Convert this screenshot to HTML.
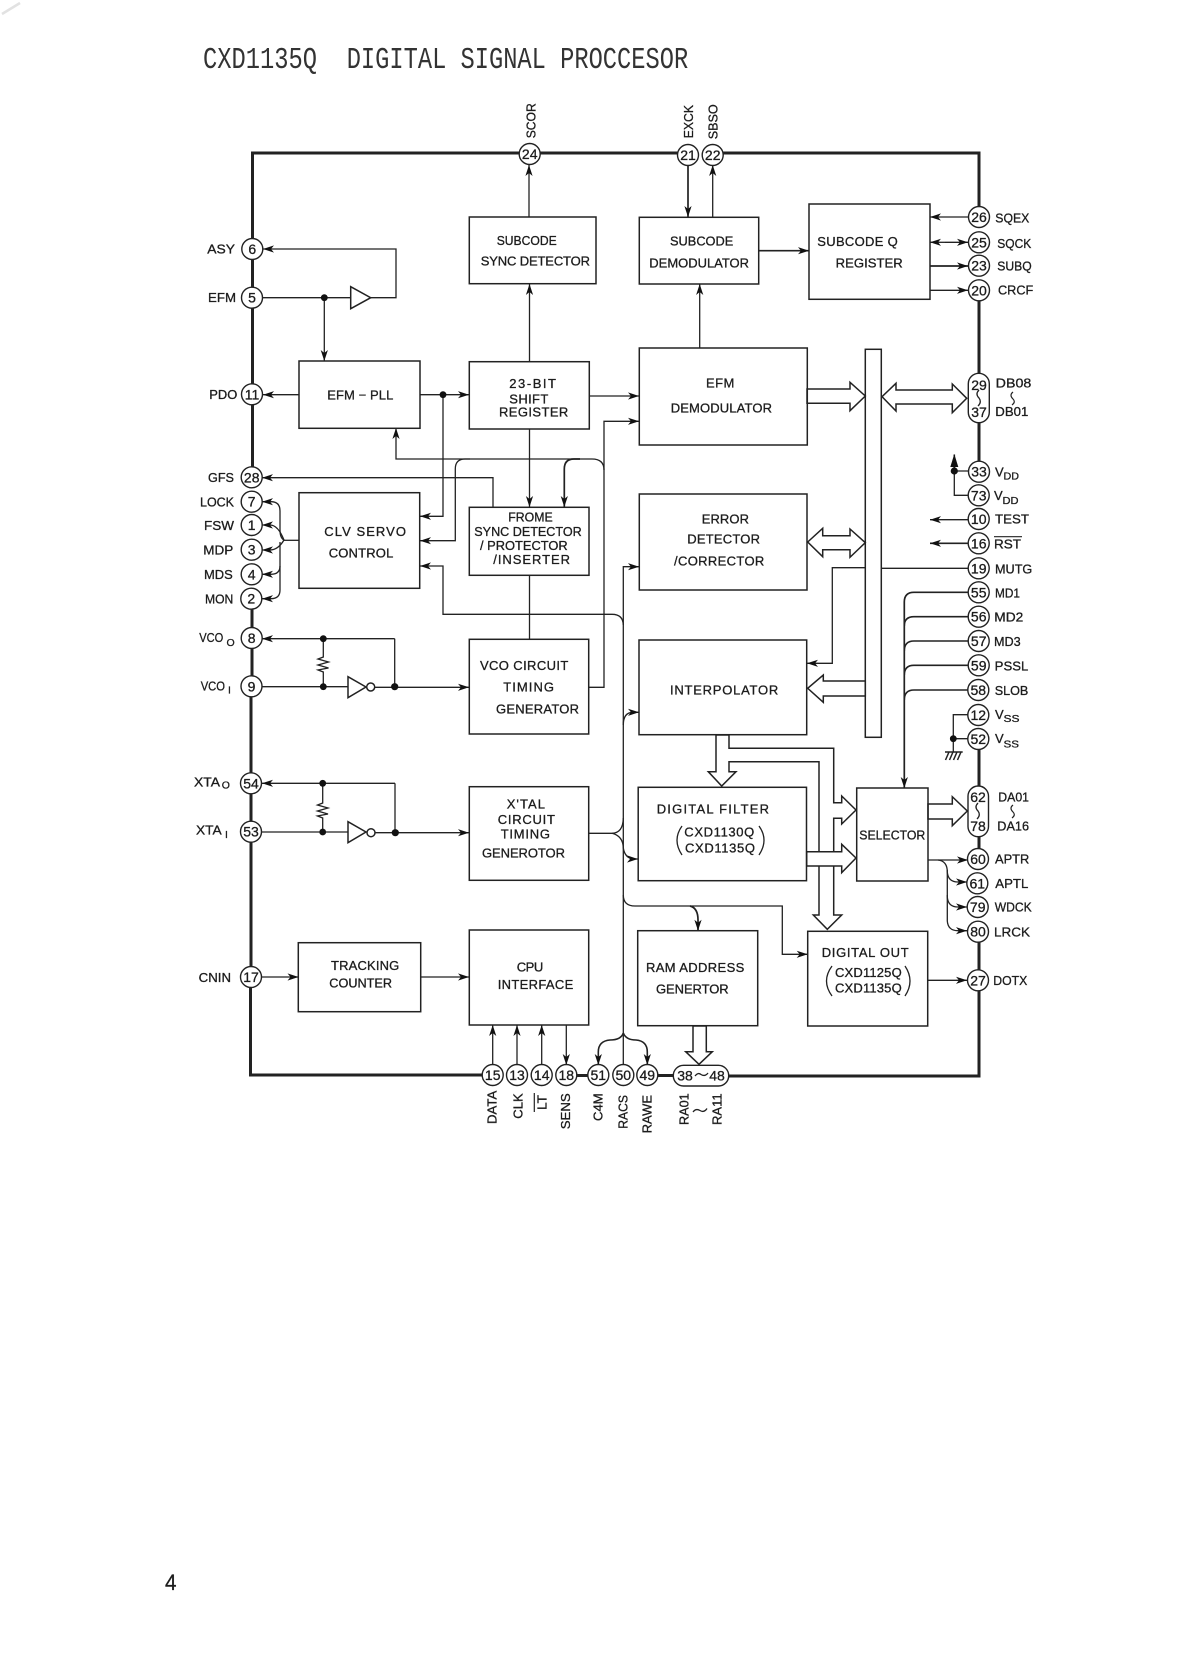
<!DOCTYPE html>
<html><head><meta charset="utf-8"><style>
html,body{margin:0;padding:0;background:#fff}
svg{display:block;filter:blur(.35px)}
text{font-family:"Liberation Sans",sans-serif;font-size:13px;fill:#1c1c1c;stroke:#1c1c1c;stroke-width:.3}
.p{font-size:14px;text-anchor:middle}
.s{font-size:10.5px}
.t{font-family:"Liberation Mono",monospace;font-size:31px;fill:#333;stroke:none}
.l,.l path,.b path{fill:none;stroke:#222}
.l{stroke-width:1.3}
.th{fill:none;stroke:#222;stroke-width:3}
.bx rect{fill:none;stroke:#222;stroke-width:1.5}
.ba{fill:#fff;stroke:#222;stroke-width:1.5}
.c circle,.c rect{fill:#fff;stroke:#222;stroke-width:1.4}
.d{fill:#111}
</style></head><body>
<svg width="1178" height="1680" viewBox="0 0 1178 1680" xmlns="http://www.w3.org/2000/svg">
<defs><marker id="a" markerUnits="userSpaceOnUse" markerWidth="12" markerHeight="8" refX="11" refY="4" orient="auto"><path d="M0 .4L11 4L0 7.6L3 4z" fill="#111"/></marker></defs>
<rect width="1178" height="1680" fill="#fff"/>
<path d="M2 14L20 3" stroke="#e2e2e2" stroke-width="2.5" fill="none"/>
<text class="t" x="203" y="68" textLength="114" lengthAdjust="spacingAndGlyphs">CXD1135Q</text>
<text class="t" x="346.7" y="68" textLength="341.5" lengthAdjust="spacingAndGlyphs">DIGITAL SIGNAL PROCCESOR</text>
<text x="165" y="1590" style="font-size:22px" textLength="11.5" lengthAdjust="spacingAndGlyphs">4</text>

<!-- package bus -->
<path class="th" d="M252.5 467V153H679M723 153H979V207M979 300V373M979 423V461M979 750V786M979 837V849M979 942V1076H729M675 1075.5H658M608 1075.5H577M482 1075H250.5V987M251 967V697M252 676V648M252 627V609M251.5 773V794"/>

<!-- connectors -->
<g class="l">
<path d="M529 217V165" marker-end="url(#a)"/>
<path d="M529.5 361V284" marker-end="url(#a)"/>
<path d="M529.5 429V507" marker-end="url(#a)"/>
<path d="M529.5 575V639"/>
<path d="M688 165V217" marker-end="url(#a)" stroke-width="1.7"/>
<path d="M712.7 217V165" marker-end="url(#a)"/>
<path d="M759 250.7H809" marker-end="url(#a)" stroke-width="1.7"/>
<path d="M699.7 348V284" marker-end="url(#a)"/>
<path d="M968 217H930" marker-end="url(#a)"/>
<path d="M945 242.3H968" marker-end="url(#a)"/><path d="M945 242.3H930" marker-end="url(#a)"/>
<path d="M930 266H968" marker-end="url(#a)" stroke-width="1.7"/>
<path d="M930 290.3H968" marker-end="url(#a)"/>
<path d="M370 297.7H396V249H263" marker-end="url(#a)"/>
<path d="M263 297.7H351"/>
<path d="M324.3 297.7V361" marker-end="url(#a)"/>
<path d="M299 394.7H263" marker-end="url(#a)"/>
<path d="M420 394.7H469" marker-end="url(#a)"/>
<path d="M443 394.7V516.3H420" marker-end="url(#a)"/>
<path d="M589.3 396H639" marker-end="url(#a)"/>
<path d="M589 687.3H604V421.3H639" marker-end="url(#a)"/>
<path d="M604 470Q604 459 592 459H396V428" marker-end="url(#a)"/>
<path d="M470 459H465Q455.3 459 455.3 469V540.7H420" marker-end="url(#a)"/>
<path d="M580 459H574Q564.3 459 564.3 469V507" marker-end="url(#a)" stroke-width="1.7"/>
<path d="M493 507V477.7H262" marker-end="url(#a)"/>
<path d="M299 540.3H284"/>
<path d="M284 540Q280 538 280 530V511Q280 501.7 271 501.7H262" marker-end="url(#a)"/>
<path d="M284 540Q278 525 270 525H262" marker-end="url(#a)"/>
<path d="M284 540Q278 550 270 550H262" marker-end="url(#a)"/>
<path d="M280 542V566Q280 574.3 271 574.3H262" marker-end="url(#a)"/>
<path d="M280 566V590Q280 598.7 271 598.7H262" marker-end="url(#a)"/>
<path d="M623.3 625Q623 614.3 612 614.3H443V566H420" marker-end="url(#a)"/>
<path d="M623.3 1064V566.7H639" marker-end="url(#a)"/>
<path d="M623.3 725Q623.3 712.3 633 712.3H639" marker-end="url(#a)"/>
<path d="M589 833.3H612Q623 833 623.3 818"/>
<path d="M612 833.3Q623 836 623.3 848V848Q625 859 635 859H638" marker-end="url(#a)"/>
<path d="M623.3 895Q623.3 906 635 906H782.3V954.3H807.7" marker-end="url(#a)"/>
<path d="M690 906Q698 908 698 920V930.7" marker-end="url(#a)" stroke-width="1.7"/>
<path d="M623.3 1033Q621 1040 610 1040Q598.3 1041 598.3 1052V1065" marker-end="url(#a)" stroke-width="1.6"/>
<path d="M623.3 1033Q626 1040 636 1040Q647.3 1041 647.3 1052V1065" marker-end="url(#a)" stroke-width="1.6"/>
<path d="M394.7 638.7H262" marker-end="url(#a)"/>
<path d="M394.7 638.7V686.7"/>
<path d="M323.3 638.7V657L318 659L328.5 662L318 665L328.5 668L318 670L323.3 672V686.7"/>
<path d="M262 686.7H348"/>
<path d="M375 687.3H469" marker-end="url(#a)"/>
<path d="M395 783.3H262" marker-end="url(#a)"/>
<path d="M395 783.3V832.7"/>
<path d="M322.7 783.3V803L317.5 805L328 808L317.5 811L328 814L317.5 816L322.7 818V832"/>
<path d="M262 832H348"/>
<path d="M375 832.7H469" marker-end="url(#a)"/>
<path d="M262 977H298.5" marker-end="url(#a)"/>
<path d="M421 977H469" marker-end="url(#a)"/>
<path d="M492.7 1065V1025" marker-end="url(#a)"/>
<path d="M517 1065V1025" marker-end="url(#a)"/>
<path d="M541.7 1065V1025" marker-end="url(#a)"/>
<path d="M566.3 1025V1065" marker-end="url(#a)"/>
<path d="M968 568.3H881.3M865.3 567.7H832.3V663.3H807" marker-end="url(#a)"/>
<path d="M968 592.3H914Q904.3 592.3 904.3 602V788" marker-end="url(#a)" stroke-width="1.7"/>
<path d="M968 616.7H914Q904.3 616.7 904.3 626M968 641H914Q904.3 641 904.3 651M968 665.3H914Q904.3 665.3 904.3 675M968 690H914Q904.3 690 904.3 700" stroke-width="1.6"/>
<path d="M968 714.7H953.3V751.7M968 738.7H953.3"/>
<path d="M945 752H962.7M949 752L945.5 760M953 752L949.5 760M957 752L953.5 760M961 752L957.5 760" stroke-width="1.5"/>
<path d="M968 471H954.3M968 495.3H954.3V471" />
<path d="M954.3 471V454.5" stroke-width="1.6"/>
<path d="M954.3 454L950.3 467H958.3z" class="d" style="fill:#111;stroke:none"/>
<path d="M968 519.7H930" marker-end="url(#a)"/>
<path d="M968 543.3H930" marker-end="url(#a)" stroke-width="1.7"/>
<path d="M928 860H968" marker-end="url(#a)"/>
<path d="M938 860Q947.3 861 947.3 872V872Q948 882 958 882H967" marker-end="url(#a)"/>
<path d="M947.3 870V897Q948 907 958 907H967" marker-end="url(#a)"/>
<path d="M947.3 895V921Q948 930.7 958 930.7H967" marker-end="url(#a)"/>
<path d="M928 980.3H967" marker-end="url(#a)"/>
<path d="M1013 392Q1009 395 1013 399Q1016 402 1012 405M1013 805Q1009 808 1013 812Q1016 815 1012 818" stroke-width="1.2"/>
<path d="M693 1112Q696 1108 700 1110.5Q704 1113 707 1108.5"/>
</g>

<!-- hollow bus arrows -->
<g class="ba" stroke-linejoin="miter">
<path d="M819 915V761.7H729V771.7H736L721.7 786L708.3 771.7H716V735H729V748.3H833.7V802.7H841.7V796L856 810L841.7 824V818.3H833.7V915H841.7L827.3 929.3L813.3 915z"/>
<path d="M806.7 851.7H841.7V844.3L856 858L841.7 872.7V866H806.7z"/>
<path d="M807 389H850V382.3L865.3 396L850 410.7V403.3H807z"/>
<path d="M882 396.7L896 383.3V390H952.3V384L966.7 398.3L952.3 412.7V404H896V411z"/>
<path d="M807.7 542L822.7 528.3V535.7H850V529L865.3 542.7L850 557.3V549.7H822.7V556.7z"/>
<path d="M865.3 681H823.3V675L807.7 688.3L823.3 702.3V696H865.3z"/>
<path d="M928 804H952.3V796.7L967.3 811L952.3 825.7V819H928z"/>
<path d="M693 1026V1051.7H685.7L699 1064.3L712.3 1051.7H706.3V1026z"/>
<path d="M350.7 286.7V308.7L370.7 297.7z" style="fill:#fff"/>
<path d="M348 676.7V697.7L366 687z"/>
<path d="M348 821.7V842.7L366 832z"/>
<circle cx="370.7" cy="687" r="4"/>
<circle cx="371" cy="832.7" r="4"/>
</g>

<!-- blocks -->
<g class="bx">
<rect x="469.3" y="217" width="126.7" height="66.7"/>
<rect x="639.3" y="217.3" width="119.4" height="66.7"/>
<rect x="809" y="204" width="121" height="95.3"/>
<rect x="299" y="361" width="121" height="67.3"/>
<rect x="469.3" y="361.7" width="120" height="67.3"/>
<rect x="639.3" y="348" width="168" height="97"/>
<rect x="639.3" y="494" width="167.7" height="96"/>
<rect x="639" y="640" width="167.7" height="94.7"/>
<rect x="638.2" y="787.3" width="168.3" height="93.4"/>
<rect x="856.7" y="788" width="71.3" height="93"/>
<rect x="807.7" y="931.3" width="120" height="94.7"/>
<rect x="637.7" y="930.7" width="120" height="95"/>
<rect x="469.3" y="930" width="119.4" height="95" stroke-width="2"/>
<rect x="298.3" y="942.7" width="122.4" height="69"/>
<rect x="469.3" y="786.7" width="119.4" height="93.6"/>
<rect x="469.3" y="639.3" width="119.4" height="94.7"/>
<rect x="469.3" y="507.3" width="119.7" height="68"/>
<rect x="299" y="492.7" width="120.7" height="95.6"/>
<rect x="865.3" y="349.3" width="16" height="388" fill="#fff" style="fill:none"/>
</g>

<!-- dots -->
<g class="d">
<circle cx="324.3" cy="297.7" r="3.4"/><circle cx="443" cy="394.7" r="3.4"/>
<circle cx="323.3" cy="638.7" r="3.4"/><circle cx="323.3" cy="686.7" r="3.4"/><circle cx="394.7" cy="686.7" r="3.6"/>
<circle cx="322.7" cy="783.3" r="3.4"/><circle cx="322.7" cy="832" r="3.4"/><circle cx="395.3" cy="832.7" r="3.6"/>
<circle cx="954.3" cy="471" r="3.6"/><circle cx="953.3" cy="738.7" r="3.4"/>
</g>

<!-- pins -->
<g class="c">
<circle cx="529.7" cy="154" r="10.5"/><circle cx="688" cy="155" r="10.5"/><circle cx="712.7" cy="155" r="10.5"/>
<circle cx="979" cy="217" r="10.5"/><circle cx="979" cy="242.3" r="10.5"/><circle cx="979" cy="265.7" r="10.5"/><circle cx="979" cy="290.3" r="10.5"/>
<rect x="968.3" y="373.3" width="21" height="49.4" rx="10.5"/>
<circle cx="979" cy="471.7" r="10.5"/><circle cx="978.7" cy="495.3" r="10.5"/><circle cx="978.7" cy="519" r="10.5"/><circle cx="978.7" cy="543.3" r="10.5"/><circle cx="978.7" cy="568.3" r="10.5"/>
<circle cx="978.7" cy="592.3" r="10.5"/><circle cx="978.7" cy="616.7" r="10.5"/><circle cx="978.7" cy="641" r="10.5"/><circle cx="978.7" cy="665.3" r="10.5"/><circle cx="978.3" cy="690" r="10.5"/>
<circle cx="978.3" cy="715" r="10.5"/><circle cx="978.3" cy="739" r="10.5"/>
<rect x="968" y="786" width="20.5" height="50.7" rx="10.2"/>
<circle cx="978" cy="859" r="10.5"/><circle cx="977.3" cy="883.3" r="10.5"/><circle cx="977.7" cy="907" r="10.5"/><circle cx="978" cy="931.7" r="10.5"/><circle cx="978" cy="980.3" r="10.5"/>
<circle cx="252.3" cy="249" r="10.5"/><circle cx="252" cy="297.7" r="10.5"/><circle cx="252" cy="394.3" r="10.5"/>
<circle cx="251.7" cy="477.3" r="10.5"/><circle cx="251.7" cy="501.7" r="10.5"/><circle cx="251.7" cy="525" r="10.5"/><circle cx="251.7" cy="549.7" r="10.5"/><circle cx="251.7" cy="574.3" r="10.5"/><circle cx="251.3" cy="598.7" r="10.5"/>
<circle cx="251.7" cy="638" r="10.5"/><circle cx="251.5" cy="686.3" r="10.5"/><circle cx="251" cy="783.3" r="10.5"/><circle cx="251" cy="831.7" r="10.5"/><circle cx="251" cy="977" r="10.5"/>
<circle cx="492.7" cy="1075" r="10.5"/><circle cx="517" cy="1075" r="10.5"/><circle cx="541.7" cy="1075" r="10.5"/><circle cx="566.3" cy="1075" r="10.5"/>
<circle cx="598.3" cy="1075" r="10.5"/><circle cx="623.3" cy="1075" r="10.5"/><circle cx="647.3" cy="1075" r="10.5"/>
<rect x="673.3" y="1065.3" width="55.4" height="20.7" rx="10.3"/>
</g>
<g class="l"><path d="M979 390Q975 394 979 398Q982 402 978 406M978 803Q974 807 978 811Q981 815 977 819M695 1076Q698 1072 701 1074.5Q705 1077 708 1073"/></g>

<!-- pin numbers -->
<g>
<text class="p" x="529.7" y="159">24</text><text class="p" x="688" y="160">21</text><text class="p" x="712.7" y="160">22</text>
<text class="p" x="979" y="222">26</text><text class="p" x="979" y="247.3">25</text><text class="p" x="979" y="270.7">23</text><text class="p" x="979" y="295.3">20</text>
<text class="p" x="979" y="390">29</text><text class="p" x="979" y="417">37</text>
<text class="p" x="979" y="476.7">33</text><text class="p" x="978.7" y="500.3">73</text><text class="p" x="978.7" y="524">10</text><text class="p" x="978.7" y="548.3">16</text><text class="p" x="978.7" y="573.3">19</text>
<text class="p" x="978.7" y="597.3">55</text><text class="p" x="978.7" y="621.7">56</text><text class="p" x="978.7" y="646">57</text><text class="p" x="978.7" y="670.3">59</text><text class="p" x="978.3" y="695">58</text>
<text class="p" x="978.3" y="720">12</text><text class="p" x="978.3" y="744">52</text>
<text class="p" x="978" y="802">62</text><text class="p" x="978" y="831">78</text>
<text class="p" x="978" y="864">60</text><text class="p" x="977.3" y="888.3">61</text><text class="p" x="977.7" y="912">79</text><text class="p" x="978" y="936.7">80</text><text class="p" x="978" y="985.3">27</text>
<text class="p" x="252.3" y="254">6</text><text class="p" x="252" y="302.7">5</text><text class="p" x="252" y="399.3">11</text>
<text class="p" x="251.7" y="482.3">28</text><text class="p" x="251.7" y="506.7">7</text><text class="p" x="251.7" y="530">1</text><text class="p" x="251.7" y="554.7">3</text><text class="p" x="251.7" y="579.3">4</text><text class="p" x="251.3" y="603.7">2</text>
<text class="p" x="251.7" y="643">8</text><text class="p" x="251.5" y="691.3">9</text><text class="p" x="251" y="788.3">54</text><text class="p" x="251" y="836.7">53</text><text class="p" x="251" y="982">17</text>
<text class="p" x="492.7" y="1080">15</text><text class="p" x="517" y="1080">13</text><text class="p" x="541.7" y="1080">14</text><text class="p" x="566.3" y="1080">18</text>
<text class="p" x="598.3" y="1080">51</text><text class="p" x="623.3" y="1080">50</text><text class="p" x="647.3" y="1080">49</text>
<text class="p" x="685" y="1080.5">38</text><text class="p" x="717" y="1080.5">48</text>
</g>

<!-- block labels -->
<g>
<text x="496.7" y="245" textLength="60" lengthAdjust="spacingAndGlyphs">SUBCODE</text>
<text x="480.7" y="265.7" textLength="109.3" lengthAdjust="spacing">SYNC DETECTOR</text>
<text x="670" y="245.7" textLength="63.3" lengthAdjust="spacingAndGlyphs">SUBCODE</text>
<text x="649.3" y="267.3" textLength="99.7" lengthAdjust="spacingAndGlyphs">DEMODULATOR</text>
<text x="817.3" y="246" textLength="80.4" lengthAdjust="spacing">SUBCODE Q</text>
<text x="835.7" y="267.3" textLength="67" lengthAdjust="spacingAndGlyphs">REGISTER</text>
<text x="706" y="387.3" textLength="28.3" lengthAdjust="spacing">EFM</text>
<text x="670.7" y="412.7" textLength="101.3" lengthAdjust="spacing">DEMODULATOR</text>
<text x="327.3" y="399.3" textLength="66" lengthAdjust="spacing">EFM − PLL</text>
<text x="509.3" y="388" textLength="46.7" lengthAdjust="spacing">23-BIT</text>
<text x="509.3" y="403.3" textLength="39" lengthAdjust="spacing">SHIFT</text>
<text x="499" y="416.7" textLength="69.3" lengthAdjust="spacing">REGISTER</text>
<text x="324.3" y="536" textLength="81.7" lengthAdjust="spacing">CLV SERVO</text>
<text x="328.7" y="557.7" textLength="64.6" lengthAdjust="spacing">CONTROL</text>
<text x="508.3" y="521.7" textLength="44.4" lengthAdjust="spacingAndGlyphs">FROME</text>
<text x="474.3" y="536" textLength="107.4" lengthAdjust="spacingAndGlyphs">SYNC DETECTOR</text>
<text x="480" y="550" textLength="87.7" lengthAdjust="spacingAndGlyphs">/ PROTECTOR</text>
<text x="493.3" y="564" textLength="76.7" lengthAdjust="spacing">/INSERTER</text>
<text x="480" y="670" textLength="88.3" lengthAdjust="spacing">VCO CIRCUIT</text>
<text x="503.3" y="691.7" textLength="50.7" lengthAdjust="spacing">TIMING</text>
<text x="496" y="713.3" textLength="83" lengthAdjust="spacing">GENERATOR</text>
<text x="506.7" y="808.3" textLength="38.3" lengthAdjust="spacing">X'TAL</text>
<text x="497.7" y="824" textLength="57.3" lengthAdjust="spacing">CIRCUIT</text>
<text x="500.7" y="838.3" textLength="49.3" lengthAdjust="spacing">TIMING</text>
<text x="482" y="857.3" textLength="83" lengthAdjust="spacing">GENEROTOR</text>
<text x="331" y="970" textLength="68.3" lengthAdjust="spacing">TRACKING</text>
<text x="329.3" y="987.7" textLength="62.7" lengthAdjust="spacingAndGlyphs">COUNTER</text>
<text x="516.7" y="971.7" textLength="26.6" lengthAdjust="spacing">CPU</text>
<text x="497.7" y="989" textLength="75.6" lengthAdjust="spacing">INTERFACE</text>
<text x="701.7" y="523.3" textLength="47.3" lengthAdjust="spacing">ERROR</text>
<text x="687.3" y="543.3" textLength="72.7" lengthAdjust="spacing">DETECTOR</text>
<text x="674" y="565.3" textLength="90.3" lengthAdjust="spacing">/CORRECTOR</text>
<text x="670" y="694.3" textLength="108.3" lengthAdjust="spacing">INTERPOLATOR</text>
<text x="656.7" y="813.7" textLength="112.3" lengthAdjust="spacing">DIGITAL FILTER</text>
<text x="684.3" y="836.7" textLength="70" lengthAdjust="spacing">CXD1130Q</text>
<text x="685" y="852.3" textLength="70" lengthAdjust="spacing">CXD1135Q</text>
<text x="859.3" y="839.7" textLength="66" lengthAdjust="spacingAndGlyphs">SELECTOR</text>
<text x="646" y="972" textLength="98.3" lengthAdjust="spacing">RAM ADDRESS</text>
<text x="656" y="993.7" textLength="72.7" lengthAdjust="spacing">GENERTOR</text>
<text x="821.7" y="957" textLength="87" lengthAdjust="spacing">DIGITAL OUT</text>
<text x="835" y="977" textLength="66.7" lengthAdjust="spacing">CXD1125Q</text>
<text x="835" y="992.3" textLength="66.7" lengthAdjust="spacing">CXD1135Q</text>
</g>
<g class="l"><path d="M682 826Q672 840 682 855M759 826Q769 840 759 855M832 966Q821 981 832 996M905 966Q915 981 905 996"/></g>

<!-- left labels -->
<text x="207.3" y="253.3" textLength="27.7" lengthAdjust="spacingAndGlyphs">ASY</text>
<text x="208" y="302" textLength="28" lengthAdjust="spacingAndGlyphs">EFM</text>
<text x="209.3" y="399" textLength="28" lengthAdjust="spacingAndGlyphs">PDO</text>
<text x="208" y="482" textLength="26" lengthAdjust="spacingAndGlyphs">GFS</text>
<text x="200" y="506.3" textLength="34" lengthAdjust="spacingAndGlyphs">LOCK</text>
<text x="204" y="530" textLength="30" lengthAdjust="spacingAndGlyphs">FSW</text>
<text x="203.3" y="554.3" textLength="30" lengthAdjust="spacingAndGlyphs">MDP</text>
<text x="204" y="579" textLength="28.7" lengthAdjust="spacingAndGlyphs">MDS</text>
<text x="205" y="603.3" textLength="28.3" lengthAdjust="spacingAndGlyphs">MON</text>
<text x="199.3" y="642" textLength="24" lengthAdjust="spacingAndGlyphs">VCO</text><text class="s" x="226.5" y="646">O</text>
<text x="200.7" y="690.3" textLength="24.3" lengthAdjust="spacingAndGlyphs">VCO</text><text class="s" x="228" y="693.5">I</text>
<text x="194" y="786.7" textLength="26" lengthAdjust="spacingAndGlyphs">XTA</text><text class="s" x="221.7" y="788.5">O</text>
<text x="196" y="834.7" textLength="25.7" lengthAdjust="spacingAndGlyphs">XTA</text><text class="s" x="225" y="838">I</text>
<text x="198.7" y="982" textLength="32.3" lengthAdjust="spacingAndGlyphs">CNIN</text>

<!-- right labels -->
<text x="995.3" y="222.7" textLength="34" lengthAdjust="spacingAndGlyphs">SQEX</text>
<text x="997.3" y="248" textLength="34" lengthAdjust="spacingAndGlyphs">SQCK</text>
<text x="997.3" y="270.7" textLength="34.4" lengthAdjust="spacingAndGlyphs">SUBQ</text>
<text x="998" y="294.7" textLength="35.3" lengthAdjust="spacingAndGlyphs">CRCF</text>
<text x="995.7" y="387.3" textLength="35.6" lengthAdjust="spacingAndGlyphs">DB08</text>
<text x="995.3" y="416" textLength="33" lengthAdjust="spacingAndGlyphs">DB01</text>
<text x="995" y="476.7">V</text><text class="s" x="1003.5" y="479.5" textLength="15.5" lengthAdjust="spacingAndGlyphs">DD</text>
<text x="994" y="500">V</text><text class="s" x="1002.5" y="504" textLength="16" lengthAdjust="spacingAndGlyphs">DD</text>
<text x="995" y="523.7" textLength="34" lengthAdjust="spacingAndGlyphs">TEST</text>
<text x="994" y="548.3" textLength="27" lengthAdjust="spacingAndGlyphs">RST</text>
<path d="M994 536.7H1022" stroke="#222" stroke-width="1.2"/>
<text x="995" y="573.3" textLength="37.3" lengthAdjust="spacingAndGlyphs">MUTG</text>
<text x="995" y="597.3" textLength="25" lengthAdjust="spacingAndGlyphs">MD1</text>
<text x="994.3" y="621.7" textLength="29" lengthAdjust="spacingAndGlyphs">MD2</text>
<text x="994" y="646" textLength="26.7" lengthAdjust="spacingAndGlyphs">MD3</text>
<text x="994.7" y="670.7" textLength="33.6" lengthAdjust="spacingAndGlyphs">PSSL</text>
<text x="994.7" y="695" textLength="33.6" lengthAdjust="spacingAndGlyphs">SLOB</text>
<text x="995" y="719">V</text><text class="s" x="1003.5" y="722" textLength="16" lengthAdjust="spacingAndGlyphs">SS</text>
<text x="995" y="743">V</text><text class="s" x="1003.5" y="747.7" textLength="15.5" lengthAdjust="spacingAndGlyphs">SS</text>
<text x="998.3" y="801.7" textLength="30.7" lengthAdjust="spacingAndGlyphs">DA01</text>
<text x="997.3" y="830.7" textLength="31.7" lengthAdjust="spacingAndGlyphs">DA16</text>
<text x="995" y="863.3" textLength="34.3" lengthAdjust="spacingAndGlyphs">APTR</text>
<text x="995.3" y="888" textLength="33" lengthAdjust="spacingAndGlyphs">APTL</text>
<text x="994.7" y="911.7" textLength="37" lengthAdjust="spacingAndGlyphs">WDCK</text>
<text x="994" y="936.7" textLength="36" lengthAdjust="spacingAndGlyphs">LRCK</text>
<text x="993.3" y="985" textLength="34" lengthAdjust="spacingAndGlyphs">DOTX</text>

<!-- rotated labels -->
<text transform="rotate(-90 535.3 138.3)" x="535.3" y="138.3" textLength="35" lengthAdjust="spacingAndGlyphs">SCOR</text>
<text transform="rotate(-90 693 138.3)" x="693" y="138.3" textLength="33.3" lengthAdjust="spacingAndGlyphs">EXCK</text>
<text transform="rotate(-90 717.7 139.3)" x="717.7" y="139.3" textLength="35" lengthAdjust="spacingAndGlyphs">SBSO</text>
<text transform="rotate(-90 496.7 1124)" x="496.7" y="1124" textLength="33.3" lengthAdjust="spacingAndGlyphs">DATA</text>
<text transform="rotate(-90 522.3 1118.7)" x="522.3" y="1118.7" textLength="25.4" lengthAdjust="spacingAndGlyphs">CLK</text>
<text transform="rotate(-90 546.7 1110)" x="546.7" y="1110" textLength="15" lengthAdjust="spacingAndGlyphs">LT</text>
<path d="M534.3 1093V1112" stroke="#222" stroke-width="1.2"/>
<text transform="rotate(-90 570 1129.3)" x="570" y="1129.3" textLength="36" lengthAdjust="spacingAndGlyphs">SENS</text>
<text transform="rotate(-90 602.7 1121)" x="602.7" y="1121" textLength="27.7" lengthAdjust="spacingAndGlyphs">C4M</text>
<text transform="rotate(-90 627.7 1128.7)" x="627.7" y="1128.7" textLength="33.7" lengthAdjust="spacingAndGlyphs">RACS</text>
<text transform="rotate(-90 651.7 1133.3)" x="651.7" y="1133.3" textLength="38.3" lengthAdjust="spacingAndGlyphs">RAWE</text>
<text transform="rotate(-90 688.3 1125)" x="688.3" y="1125" textLength="31.7" lengthAdjust="spacingAndGlyphs">RA01</text>
<text transform="rotate(-90 721.7 1125)" x="721.7" y="1125" textLength="31.7" lengthAdjust="spacingAndGlyphs">RA11</text>
</svg>
</body></html>
